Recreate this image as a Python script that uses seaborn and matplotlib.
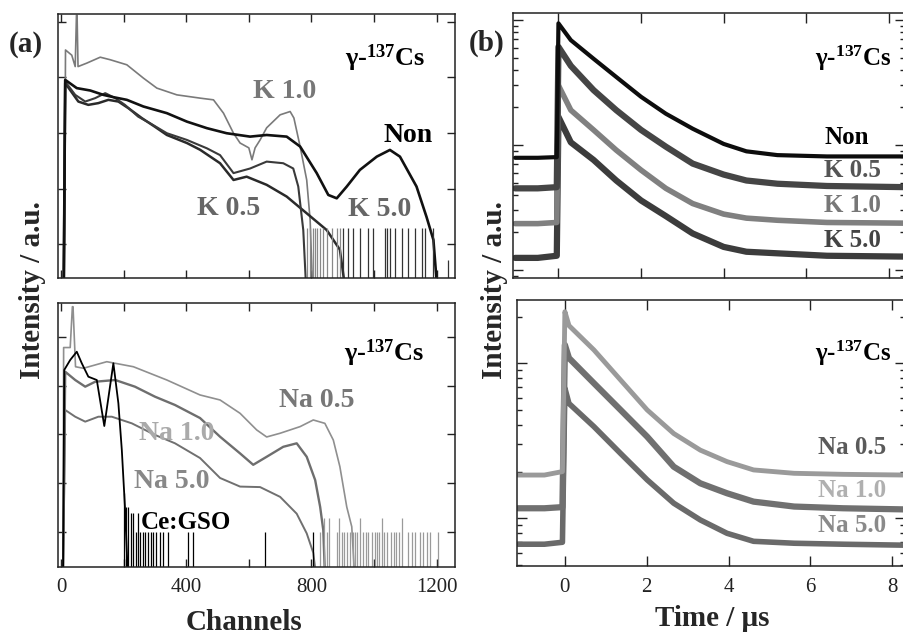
import matplotlib
matplotlib.use('Agg')
import matplotlib.pyplot as plt
import matplotlib.ticker as mticker
import seaborn as sns
import numpy as np

# ---- (a) pulse height spectra, K doped (channel, counts) ----
ch_non = [8, 13, 50, 93, 135, 167, 210, 263, 338, 402, 466, 529, 604, 657, 721, 764, 817, 854, 881, 913, 955, 1009, 1051, 1083, 1136, 1168, 1190, 1205]
cnt_non = [0.1, 900, 640, 580, 484, 440, 394, 299, 227, 160, 122, 99, 86, 92, 86, 57, 19, 7.7, 6.7, 10.9, 21.7, 37.6, 49.6, 37.6, 10.9, 3.1, 1.2, 0.1]
ch_k10 = [10, 14, 34, 45, 49, 51, 54, 82, 125, 157, 210, 263, 306, 370, 444, 487, 519, 551, 572, 600, 610, 620, 636, 657, 700, 732, 744, 764, 785, 796, 805]
cnt_k10 = [0.1, 3100, 2500, 1560, 13000, 13000, 1560, 1800, 2300, 2070, 1680, 968, 640, 484, 423, 394, 227, 99, 66, 54, 33, 54, 75, 124, 212, 243, 186, 57, 14.3, 2.7, 0.1]
ch_k05 = [8, 13, 45, 77, 109, 141, 173, 204, 246, 284, 338, 402, 466, 508, 551, 604, 657, 710, 742, 758, 774, 785]
cnt_k05 = [0.1, 840, 484, 367, 423, 520, 423, 320, 197, 150, 99, 75, 53, 40, 19, 23, 30.6, 28.6, 23, 10.9, 1.8, 0.1]
ch_k50 = [8, 13, 55, 87, 119, 151, 183, 215, 258, 300, 338, 402, 444, 508, 551, 593, 657, 721, 785, 849, 891, 913]
cnt_k50 = [0.1, 787, 367, 320, 344, 394, 367, 279, 185, 129, 92, 66, 50, 28.6, 14.3, 16.4, 11.7, 7.2, 3.6, 1.8, 0.8, 0.1]
spike_k_gray = [787, 796, 804, 812, 819, 827, 838, 849, 865, 881, 892]
spike_k_dark = [902, 918, 934, 955, 982, 998, 1035, 1043, 1051, 1067, 1089, 1110, 1131, 1152, 1163, 1190]

# ---- (a) pulse height spectra, Na doped + Ce:GSO ----
ch_na05 = [6, 8, 29, 36, 38, 46, 71, 146, 231, 338, 444, 508, 572, 625, 657, 700, 764, 806, 843, 870, 891, 913, 929, 939]
cnt_na05 = [0.1, 6000, 6000, 41000, 41000, 2430, 2260, 3080, 2430, 1300, 643, 508, 271, 124, 89, 106, 145, 198, 169, 77, 22, 3.3, 1.3, 0.1]
ch_na10 = [6, 13, 45, 77, 109, 173, 236, 300, 364, 444, 508, 572, 614, 657, 710, 753, 785, 812, 828, 838, 844]
cnt_na10 = [0.1, 1920, 1300, 950, 1200, 1300, 950, 593, 401, 217, 90, 41, 24, 35, 56, 66, 35, 11.7, 3.3, 1.1, 0.1]
ch_na50 = [6, 13, 45, 77, 119, 162, 226, 300, 364, 444, 508, 572, 636, 700, 753, 785, 806, 817]
cnt_na50 = [0.1, 317, 231, 183, 231, 231, 169, 98, 66, 33, 12.9, 8.6, 8.4, 5.3, 2.4, 0.95, 0.38, 0.1]
ch_gso = [6, 10, 29, 50, 66, 87, 114, 138, 167, 183, 194, 204, 214]
cnt_gso = [0.1, 2090, 3340, 4930, 2860, 1520, 1300, 149, 2860, 435, 48, 3.3, 0.1]
spike_gso = [201, 208, 215, 223, 231, 240, 245, 252, 261, 269, 279, 287, 295, 303, 316, 327, 343, 407, 423, 652, 806]
spike_gso_h = [6.3, 3.3, 3.3, 2.5, 2.5, 1, 2.5, 1, 1, 1, 1, 1, 1, 1, 1, 1, 1, 1, 1, 1, 1]
spike_na = [828, 840, 849, 857, 881, 889, 897, 904, 913, 923, 932, 939, 947, 955, 966, 973, 982, 993, 1003, 1009,
            1017, 1025, 1032, 1041, 1053, 1064, 1072, 1080, 1089, 1110, 1120, 1131, 1147, 1158, 1168, 1179, 1206]
spike_na_h = [1, 2, 1, 2, 1, 2, 1, 1, 1, 1, 1, 1, 1, 2, 1, 1, 1, 1, 1, 1,
              1, 2, 1, 1, 1, 1, 1, 1, 2, 1, 1, 1, 1, 1, 1, 1, 1]

# ---- (b) decay curves (time in us, intensity) ----
t_k = [-1.05, -0.5, -0.04, 0.0, 0.3, 0.85, 1.4, 2.0, 2.6, 3.25, 4.0, 4.55, 5.3, 6.5, 8.4]
dec_non = [79, 79, 80, 940, 690, 490, 350, 243, 178, 135, 102, 89, 83, 81, 81]
dec_k05 = [45, 45, 46, 610, 430, 275, 190, 132, 97, 71, 58, 52, 49, 47, 46]
dec_k10 = [23.5, 23.5, 24, 300, 190, 132, 91, 63, 45, 34, 28, 26, 25, 24, 23.7]
dec_k50 = [12.5, 12.5, 13, 168, 105, 76, 52, 36, 27, 19.6, 15.3, 14, 13.6, 13, 12.8]

t_na = [-1.15, -0.5, -0.06, 0.0, 0.1, 0.71, 1.36, 2.01, 2.66, 3.31, 3.96, 4.61, 5.6, 6.8, 8.35]
dec_na05 = [190, 190, 200, 2150, 1750, 1218, 780, 500, 352, 275, 232, 205, 195, 192, 190]
dec_na10 = [116, 116, 118, 1313, 1080, 743, 500, 336, 215, 168, 145, 128, 119, 116, 114]
dec_na50 = [68, 68, 70, 690, 550, 390, 262, 177, 125, 97.5, 80, 71, 69, 68, 67]

sns.set_style('ticks')
plt.rcParams['font.family'] = ['Liberation Serif', 'DejaVu Serif']
plt.rcParams['mathtext.fontset'] = 'custom'
plt.rcParams['mathtext.bf'] = 'Liberation Serif:bold'
plt.rcParams['mathtext.rm'] = 'Liberation Serif:bold'
plt.rcParams['mathtext.default'] = 'bf'

fig = plt.figure(figsize=(9.04, 6.35), dpi=100)
W, H = 904, 635


def add_axes(l, r, t, b):
    return fig.add_axes([l / W, 1 - b / H, (r - l) / W, (b - t) / H])


ax_at = add_axes(58, 455, 14, 278)
ax_ab = add_axes(58, 455, 303, 567)
ax_bt = add_axes(513, 905, 13, 278)
ax_bb = add_axes(517, 905, 300, 566)


def line(ax, x, y, color, lw):
    sns.lineplot(x=x, y=y, ax=ax, color=color, linewidth=lw, estimator=None, sort=False)


def frame(ax):
    for s in ax.spines.values():
        s.set_color('#222222')
        s.set_linewidth(1.1)
    ax.tick_params(which='both', direction='in', top=True, right=True,
                   colors='#222222', width=1.0, labelsize=15, pad=8)
    ax.tick_params(which='major', length=6)
    ax.tick_params(which='minor', length=3.5)
    ax.set_xlabel('')
    ax.set_ylabel('')


# (a) top
line(ax_at, ch_k10, cnt_k10, '#7a7a7a', 1.2)
line(ax_at, ch_k50, cnt_k50, '#2a2a2a', 1.8)
line(ax_at, ch_k05, cnt_k05, '#3a3a3a', 1.5)
line(ax_at, ch_non, cnt_non, '#111111', 1.9)
ax_at.vlines(spike_k_gray, 0.01, 2.0, color='#888888', lw=0.9)
ax_at.vlines(spike_k_dark, 0.01, 2.0, color='#333333', lw=0.9)
ax_at.vlines([1236], 0.01, 0.52, color='#333333', lw=0.9)

# (a) bottom
line(ax_ab, ch_na05, cnt_na05, '#8f8f8f', 1.2)
line(ax_ab, ch_na10, cnt_na10, '#6e6e6e', 1.7)
line(ax_ab, ch_na50, cnt_na50, '#707070', 1.4)
line(ax_ab, ch_gso, cnt_gso, '#000000', 1.3)
ax_ab.vlines(spike_na, 0.01, spike_na_h, color='#9a9a9a', lw=0.9)
ax_ab.vlines(spike_gso, 0.01, spike_gso_h, color='#000000', lw=0.9)

for ax, ylo, yhi in [(ax_at, 10 ** -0.606, 10 ** 4.138), (ax_ab, 10 ** -0.71, 10 ** 4.689)]:
    ax.set_yscale('log')
    ax.set_ylim(ylo, yhi)
    ax.set_xlim(-10, 1259)
    ax.yaxis.set_major_locator(mticker.FixedLocator([1, 10, 100, 1000, 10000]))
    ax.yaxis.set_minor_locator(mticker.NullLocator())
    ax.xaxis.set_major_locator(mticker.MultipleLocator(400))
    ax.xaxis.set_minor_locator(mticker.FixedLocator([200, 600, 1000]))
    frame(ax)
    ax.tick_params(which='minor', axis='x', length=6)
    ax.tick_params(labelleft=False)
ax_at.tick_params(labelbottom=False)

# (b) top
line(ax_bt, t_k, dec_k50, '#3c3c3c', 4.5)
line(ax_bt, t_k, dec_k10, '#808080', 4.0)
line(ax_bt, t_k, dec_k05, '#454545', 4.5)
line(ax_bt, t_k, dec_non, '#0d0d0d', 3.0)
ax_bt.set_yscale('log')
ax_bt.set_ylim(10 ** 0.936, 10 ** 3.056)
ax_bt.set_xlim(-1.10, 8.39)

# (b) bottom
line(ax_bb, t_na, dec_na50, '#6a6a6a', 4.0)
line(ax_bb, t_na, dec_na10, '#707070', 4.5)
line(ax_bb, t_na, dec_na05, '#9a9a9a', 3.5)
ax_bb.set_yscale('log')
ax_bb.set_ylim(10 ** 1.692, 10 ** 3.408)
ax_bb.set_xlim(-1.17, 8.31)

for ax in (ax_bt, ax_bb):
    ax.xaxis.set_major_locator(mticker.MultipleLocator(2))
    ax.xaxis.set_minor_locator(mticker.NullLocator())
    ax.yaxis.set_major_locator(mticker.LogLocator(base=10))
    ax.yaxis.set_minor_locator(mticker.LogLocator(base=10, subs=np.arange(2, 10)))
    frame(ax)
    ax.tick_params(which='major', length=7)
    ax.tick_params(labelleft=False, labelright=False)
    ax.yaxis.set_minor_formatter(mticker.NullFormatter())
ax_bt.tick_params(labelbottom=False)
ax_bb.tick_params(pad=9)

# ---- texts ----
cs = 'γ-$^{137}$Cs'
big = dict(fontweight='bold', ha='center', va='center')
ax_at.text(0.824, 0.833, cs, transform=ax_at.transAxes, fontsize=19, color='black', **big)
ax_at.text(0.572, 0.705, 'K 1.0', transform=ax_at.transAxes, fontsize=20, color='#777777', **big)
ax_at.text(0.882, 0.538, 'Non', transform=ax_at.transAxes, fontsize=20, color='black', **big)
ax_at.text(0.430, 0.265, 'K 0.5', transform=ax_at.transAxes, fontsize=20, color='#666666', **big)
ax_at.text(0.811, 0.258, 'K 5.0', transform=ax_at.transAxes, fontsize=20, color='#666666', **big)

ax_ab.text(0.821, 0.811, cs, transform=ax_ab.transAxes, fontsize=19, color='black', **big)
ax_ab.text(0.652, 0.629, 'Na 0.5', transform=ax_ab.transAxes, fontsize=20, color='#777777', **big)
ax_ab.text(0.300, 0.504, 'Na 1.0', transform=ax_ab.transAxes, fontsize=20, color='#aaaaaa', **big)
ax_ab.text(0.287, 0.322, 'Na 5.0', transform=ax_ab.transAxes, fontsize=20, color='#888888', **big)
ax_ab.text(0.322, 0.167, 'Ce:GSO', transform=ax_ab.transAxes, fontsize=18, color='black', **big)

ax_bt.text(0.867, 0.830, cs, transform=ax_bt.transAxes, fontsize=18, color='black', **big)
ax_bt.text(0.852, 0.532, 'Non', transform=ax_bt.transAxes, fontsize=18, color='black', **big)
ax_bt.text(0.867, 0.404, 'K 0.5', transform=ax_bt.transAxes, fontsize=18, color='#555555', **big)
ax_bt.text(0.867, 0.275, 'K 1.0', transform=ax_bt.transAxes, fontsize=18, color='#777777', **big)
ax_bt.text(0.867, 0.140, 'K 5.0', transform=ax_bt.transAxes, fontsize=18, color='#444444', **big)

ax_bb.text(0.866, 0.801, cs, transform=ax_bb.transAxes, fontsize=18, color='black', **big)
ax_bb.text(0.863, 0.447, 'Na 0.5', transform=ax_bb.transAxes, fontsize=18, color='#5a5a5a', **big)
ax_bb.text(0.863, 0.282, 'Na 1.0', transform=ax_bb.transAxes, fontsize=18, color='#b0b0b0', **big)
ax_bb.text(0.863, 0.154, 'Na 5.0', transform=ax_bb.transAxes, fontsize=18, color='#8a8a8a', **big)

fig.text(26 / W, 1 - 44 / H, '(a)', fontsize=21, **big)
fig.text(487 / W, 1 - 43 / H, '(b)', fontsize=21, **big)
fig.text(33 / W, 1 - 290 / H, 'Intensity / a.u.', fontsize=21, rotation=90, **big)
fig.text(495 / W, 1 - 290 / H, 'Intensity / a.u.', fontsize=21, rotation=90, **big)
fig.text(244 / W, 1 - 622 / H, 'Channels', fontsize=21, **big)
fig.text(712 / W, 1 - 619 / H, 'Time / μs', fontsize=21, **big)

fig.savefig('out.png', dpi=100)
